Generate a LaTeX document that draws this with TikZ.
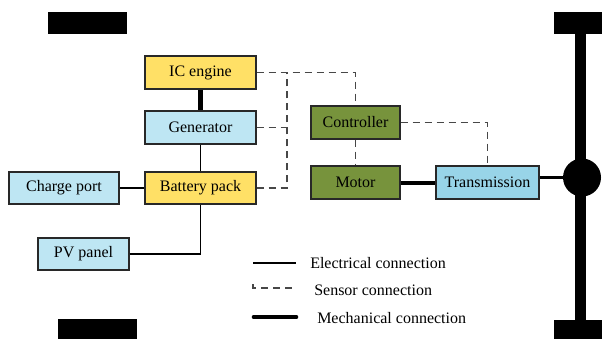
\documentclass[tikz,border=0pt]{standalone}
\usepackage{fontspec}
\setmainfont{Liberation Serif}
\usetikzlibrary{calc}
\definecolor{cyel}{RGB}{255,224,102}
\definecolor{cblue}{RGB}{190,230,243}
\definecolor{cblue2}{RGB}{152,212,232}
\definecolor{cgreen}{RGB}{119,147,60}
\definecolor{cborder}{RGB}{40,40,40}
\tikzset{
  box/.style={draw=cborder, line width=0.9pt, minimum height=24.75pt, inner sep=0pt, font=\rmfamily\fontsize{12}{14}\selectfont},
  elec/.style={line width=0.8pt},
  sens/.style={line width=1.1pt, dash pattern=on 5.5pt off 3.5pt, draw=black!72},
  mech/.style={line width=3.5pt, line cap=round},
  blk/.style={fill=black, draw=none, inner sep=0pt},
  lgd/.style={anchor=west, font=\rmfamily\fontsize{12}{14}\selectfont, inner sep=0pt}
}
\begin{document}
\begin{tikzpicture}[x=0.75pt,y=-0.75pt]
\fill[white] (0,0) rectangle (602,339);
\useasboundingbox (0,0) rectangle (602,339);
% black wheels
\node[blk, minimum width=59.25pt, minimum height=16.5pt] (tl) at (87.5,23) {};
\node[blk, minimum width=59.25pt, minimum height=15pt] (bl) at (97.5,329) {};
\node[blk, minimum width=36pt, minimum height=16.5pt] (tr) at (578,23) {};
\node[blk, minimum width=36pt, minimum height=14.25pt] (br) at (578,329.5) {};
\draw[line width=8.25pt] (tr.south -| 580.5,0) -- (br.north -| 580.5,0);
\node[blk, circle, minimum size=28.5pt] (hub) at (582,177.5) {};
% boxes
\node[box, fill=cyel, minimum width=83.25pt] (ice) at (200.5,72.5) {IC engine};
\node[box, fill=cblue, minimum width=83.25pt] (gen) at (200.5,127.5) {Generator};
\node[box, fill=cyel, minimum width=83.25pt, minimum height=24pt] (bat) at (200.5,188) {Battery pack};
\node[box, fill=cblue, minimum width=82.5pt, minimum height=24pt] (chg) at (64,188) {Charge port};
\node[box, fill=cblue, minimum width=68.25pt, minimum height=24pt] (pv) at (83.5,254) {PV panel};
\node[box, fill=cgreen, minimum width=66.75pt] (ctrl) at (355.5,122.5) {Controller};
\node[box, fill=cgreen, minimum width=66.75pt] (mot) at (355.5,182.5) {Motor};
\node[box, fill=cblue2, minimum width=77.25pt] (trn) at (487.5,182.5) {Transmission};
% connections
\draw[mech, line cap=butt] (ice.south) -- (gen.north);
\draw[elec] (gen.south) -- (bat.north);
\draw[elec] (chg.east) -- (bat.west);
\draw[elec] (pv.east) -| (bat.south);
\coordinate (sx) at (287,72.5);
\draw[sens] (ice.east) -| (ctrl.north);
\draw[sens] (gen.east) -- (gen.east -| sx);
\draw[sens] (bat.east) -- (bat.east -| sx) -- (sx);
\draw[sens] (ctrl.south) -- (mot.north);
\draw[sens] (ctrl.east) -| (trn.north);
\draw[line width=3pt] (mot.east) -- (trn.west);
\draw[line width=2.4pt] (trn.east |- hub) -- (hub);
% legend
\coordinate (la1) at (253,263); \coordinate (lb1) at (296,263);
\coordinate (la2) at (253,288); \coordinate (lb2) at (296,288);
\coordinate (la3) at (254,317); \coordinate (lb3) at (296,317);
\draw[elec] (la1) -- (lb1);
\draw[sens] ($(la2)+(0,-4)$) -- (la2) -- (lb2);
\draw[mech] (la3) -- (lb3);
\node[lgd] (t1) at (310,263) {Electrical connection};
\node[lgd] (t2) at (314,290) {Sensor connection};
\node[lgd] (t3) at (317,318) {Mechanical connection};
\end{tikzpicture}
\end{document}
